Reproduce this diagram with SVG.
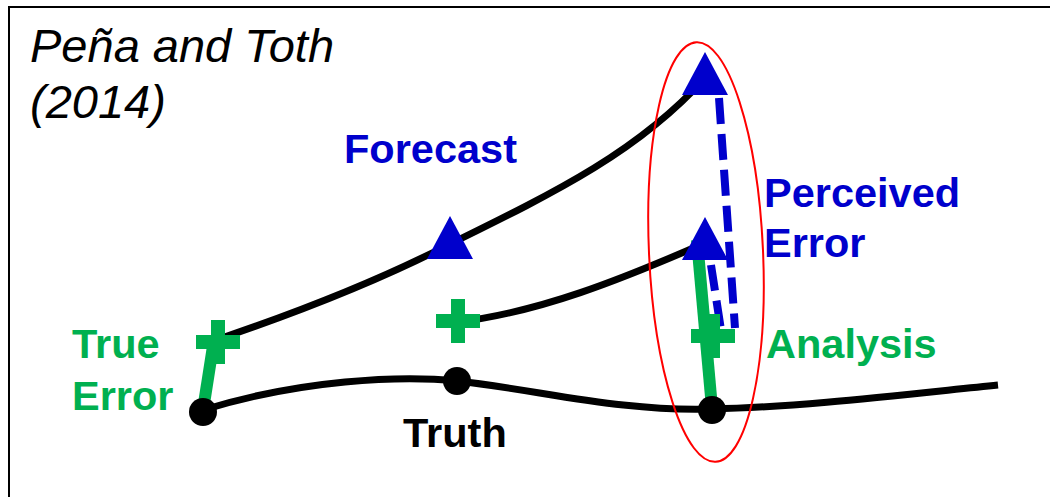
<svg xmlns="http://www.w3.org/2000/svg" width="1050" height="497" viewBox="0 0 1050 497">
<style>
.curve{fill:none;stroke:#000;stroke-width:7;stroke-linecap:butt}
.lbl{font-family:"Liberation Sans",Arial,sans-serif;font-weight:bold;font-size:41.5px}
.blue{fill:#0000CC}
.green{fill:#00B050}
.tri{fill:#0000CC}
.cross{fill:#00B050}
.dash{fill:none;stroke:#0000CC;stroke-width:8;stroke-dasharray:26 10}
.gline{stroke:#00B050;stroke-width:12;fill:none}
</style>
<defs>
<path id="plus" d="M-7,-22 H7 V-7 H22 V7 H7 V22 H-7 V7 H-22 V-7 H-7 Z"/>
<path id="tri" d="M0,-24 L23,19 L-23,19 Z"/>
</defs>
<rect x="0" y="0" width="1050" height="497" fill="#fff"/>
<path d="M9,497 V7 H1050" fill="none" stroke="#000" stroke-width="2"/>
<g id="title">
<text x="30" y="62" font-family="'Liberation Sans',Arial,sans-serif" font-style="italic" font-size="47">Peña and Toth</text>
<text x="30" y="118" font-family="'Liberation Sans',Arial,sans-serif" font-style="italic" font-size="47">(2014)</text>
</g>
<g id="connectors">
<path class="curve" d="M203,410 C300,380 400,375 457,381 C540,390 620,412 712,409 C800,407 900,395 998,385"/>
<path class="curve" d="M213,341 C290,315 370,285 448,245 C560,190 640,150 705,78"/>
<path class="curve" d="M458,322 C540,312 620,280 705,243"/>
<line class="gline" x1="203" y1="410" x2="214" y2="340"/>
<line class="gline" x1="697" y1="240" x2="712" y2="408"/>
<line class="dash" x1="719" y1="98" x2="735" y2="328"/>
<line class="dash" x1="711" y1="265" x2="721" y2="330"/>
</g>
<g id="truth-points">
<circle cx="203" cy="412" r="14"/>
<circle cx="457" cy="381" r="14"/>
<circle cx="712" cy="410" r="14"/>
</g>
<g id="analysis-points">
<use href="#plus" class="cross" x="218" y="342"/>
<use href="#plus" class="cross" x="458" y="321"/>
<use href="#plus" class="cross" x="713" y="336"/>
</g>
<g id="forecast-points">
<use href="#tri" class="tri" x="450" y="240"/>
<use href="#tri" class="tri" x="705" y="76"/>
<use href="#tri" class="tri" x="705" y="241"/>
</g>
<g id="ellipse">
<ellipse cx="706" cy="252" rx="57" ry="210" fill="none" stroke="#FF0000" stroke-width="2" transform="rotate(-2.6 706 252)"/>
</g>
<g id="labels">
<text class="lbl blue" x="344" y="163">Forecast</text>
<text class="lbl blue" x="764" y="207">Perceived</text>
<text class="lbl blue" x="764" y="257">Error</text>
<text class="lbl green" x="766" y="358">Analysis</text>
<text class="lbl green" x="72" y="358">True</text>
<text class="lbl green" x="72" y="410">Error</text>
<text class="lbl" x="403" y="447" fill="#000">Truth</text>
</g>
</svg>
